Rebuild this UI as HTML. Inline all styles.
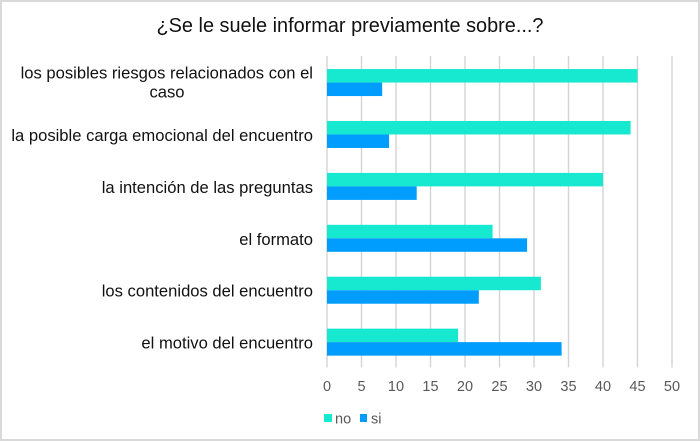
<!DOCTYPE html>
<html lang="es">
<head>
<meta charset="utf-8">
<title>¿Se le suele informar previamente sobre...?</title>
<style>
html,body{margin:0;padding:0;background:#fff;}
body{width:700px;height:442px;overflow:hidden;}
svg{display:block;font-family:"Liberation Sans",Arial,sans-serif;}
</style>
</head>
<body>
<svg id="chart" width="700" height="442" viewBox="0 0 700 442" xmlns="http://www.w3.org/2000/svg">
<rect x="1" y="1" width="698" height="439" fill="#fff" stroke="#d9d9d9" stroke-width="2"/>
<text x="350" y="32" text-anchor="middle" font-size="19.9" fill="#111">¿Se le suele informar previamente sobre...?</text>
<g id="grid"></g>
<g id="bars"></g>
<g id="cats"></g>
<g id="ticks"></g>
<g>
<g>
<rect x="324" y="414" width="8" height="8" fill="#17e8d0"/>
<text x="335" y="423.5" font-size="14.5" fill="#595959">no</text>
</g>
<g>
<rect x="360" y="414" width="7" height="8" fill="#009dff"/>
<text x="371" y="423.5" font-size="14.5" fill="#595959">si</text>
</g>
</g>
</svg>
<script>
const categories = [
  ["los posibles riesgos relacionados con el", "caso"],
  ["la posible carga emocional del encuentro"],
  ["la intención de las preguntas"],
  ["el formato"],
  ["los contenidos del encuentro"],
  ["el motivo del encuentro"]
];
const noValues = [45, 44, 40, 24, 31, 19];
const siValues = [8, 9, 13, 29, 22, 34];
const tickValues = [0, 5, 10, 15, 20, 25, 30, 35, 40, 45, 50];

const NS = "http://www.w3.org/2000/svg";
const plotLeft = 327, plotRight = 672, plotTop = 56, plotBottom = 367.5;
const axisMax = 50;
const barHeight = 13.5;
const xScale = v => plotLeft + (v / axisMax) * (plotRight - plotLeft);
const bandHeight = (plotBottom - plotTop) / categories.length;
const bandCenter = i => plotTop + bandHeight * (i + 0.5) + 0.6;

function make(tag, attrs, parent, text) {
  const el = document.createElementNS(NS, tag);
  for (const k in attrs) el.setAttribute(k, attrs[k]);
  if (text !== undefined) el.textContent = text;
  parent.appendChild(el);
  return el;
}

const gridG = document.getElementById("grid");
const ticksG = document.getElementById("ticks");
tickValues.forEach(t => {
  const line = make("line", {x1: xScale(t), x2: xScale(t), y1: plotTop, y2: plotBottom, stroke: "#d4d4d4", "stroke-width": 1.4}, gridG);
  
  
  const label = make("text", {x: xScale(t), y: 391, "text-anchor": "middle", "font-size": 14.5, fill: "#595959"}, ticksG, t);
  
  
});

const barsG = document.getElementById("bars");
const catsG = document.getElementById("cats");
categories.forEach((lines, i) => {
  const c = bandCenter(i);
  const noBar = make("rect", {x: plotLeft, y: c - barHeight, width: xScale(noValues[i]) - plotLeft, height: barHeight, fill: "#17e8d0"}, barsG);
  
  
  const siBar = make("rect", {x: plotLeft, y: c, width: xScale(siValues[i]) - plotLeft, height: barHeight, fill: "#009dff"}, barsG);
  
  

  const lineGap = 19;
  const baselineOffset = lines.length > 1 ? 5.5 : 6.5;
  lines.forEach((line, j) => {
    const y = c + baselineOffset + (j - (lines.length - 1) / 2) * lineGap;
    const isWrap = j > 0;
    const attrs = {y: y, "font-size": 16.6, fill: "#111"};
    if (isWrap) {
      attrs.x = 167;
      attrs["text-anchor"] = "middle";
    } else {
      attrs.x = 313;
      attrs["text-anchor"] = "end";
    }
    const label = make("text", attrs, catsG, line);
    
    
  });
});
</script>
</body>
</html>
